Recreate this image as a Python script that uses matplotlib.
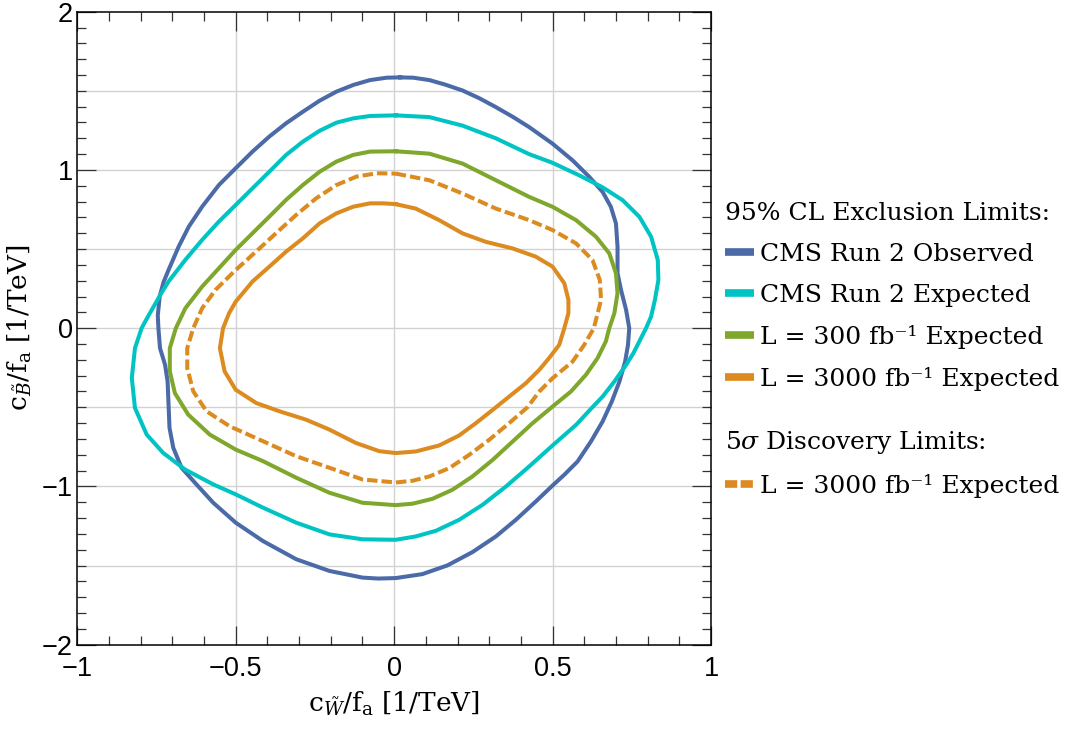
import numpy as np
import matplotlib
matplotlib.use('Agg')
import matplotlib.pyplot as plt
from matplotlib.lines import Line2D
from matplotlib.ticker import MultipleLocator, FixedLocator

# contour points, clockwise from the top
obs_x = [0.019, 0.06, 0.111, 0.16, 0.216, 0.27, 0.321, 0.375, 0.426, 0.5, 0.563, 0.616, 0.658, 0.684, 0.7,
         0.705, 0.705, 0.716, 0.732, 0.742,
         0.738, 0.729, 0.711, 0.687, 0.658, 0.621, 0.579, 0.537, 0.5, 0.447, 0.384, 0.321, 0.247, 0.168,
         0.089, 0.005,
         -0.05, -0.1, -0.204, -0.309, -0.414, -0.5, -0.571, -0.624, -0.671, -0.697, -0.709, -0.712, -0.715,
         -0.723, -0.739, -0.744,
         -0.746, -0.74, -0.728, -0.712, -0.68, -0.648, -0.606, -0.553, -0.5, -0.447, -0.394, -0.341, -0.288,
         -0.235, -0.182, -0.129, -0.076, -0.023, 0.019]
obs_y = [1.585, 1.583, 1.568, 1.54, 1.502, 1.452, 1.397, 1.335, 1.271, 1.166, 1.061, 0.956, 0.861, 0.767, 0.662,
         0.515, 0.347, 0.242, 0.116, 0.0,
         -0.105, -0.211, -0.337, -0.463, -0.589, -0.716, -0.842, -0.926, -0.994, -1.095, -1.211, -1.316, -1.415,
         -1.499, -1.554, -1.579,
         -1.582, -1.576, -1.534, -1.46, -1.345, -1.229, -1.103, -0.987, -0.882, -0.756, -0.63, -0.483, -0.336,
         -0.231, -0.126, 0.0,
         0.08, 0.2, 0.29, 0.368, 0.516, 0.642, 0.768, 0.905, 1.011, 1.116, 1.211, 1.295, 1.368,
         1.438, 1.495, 1.537, 1.568, 1.583, 1.585]

exp_x = [0.005, 0.111, 0.216, 0.321, 0.426, 0.5, 0.584, 0.658, 0.721, 0.774, 0.811, 0.832, 0.834, 0.823,
         0.811, 0.795,
         0.779, 0.755, 0.732, 0.695, 0.658, 0.626, 0.574, 0.5, 0.426, 0.353, 0.279, 0.205, 0.132, 0.068, 0.005,
         -0.1, -0.204, -0.309, -0.414, -0.5, -0.571, -0.66, -0.729, -0.781, -0.818, -0.828, -0.818, -0.797,
         -0.78, -0.756, -0.735, -0.712, -0.659, -0.606, -0.553, -0.5, -0.447, -0.394, -0.341, -0.288, -0.235,
         -0.182, -0.129, -0.076, 0.005]
exp_y = [1.345, 1.334, 1.28, 1.2, 1.1, 1.045, 0.966, 0.89, 0.809, 0.704, 0.578, 0.431, 0.305, 0.179,
         0.074, 0.0,
         -0.063, -0.158, -0.232, -0.337, -0.432, -0.499, -0.611, -0.741, -0.874, -1.0, -1.116, -1.211, -1.28,
         -1.316, -1.337,
         -1.334, -1.303, -1.229, -1.134, -1.05, -0.987, -0.893, -0.788, -0.672, -0.504, -0.315, -0.126, 0.0,
         0.063, 0.147, 0.221, 0.295, 0.432, 0.558, 0.674, 0.779, 0.884, 0.989, 1.095, 1.179, 1.248,
         1.299, 1.326, 1.341, 1.345]

l300_x = [0.005, 0.111, 0.216, 0.321, 0.426, 0.5, 0.574, 0.637, 0.679, 0.7, 0.705, 0.695, 0.679,
          0.668, 0.642, 0.605, 0.558, 0.5, 0.437, 0.374, 0.311, 0.247, 0.184, 0.121, 0.058, 0.005,
          -0.1, -0.204, -0.309, -0.414, -0.5, -0.582, -0.65, -0.692, -0.708, -0.708, -0.689,
          -0.659, -0.606, -0.553, -0.5, -0.447, -0.394, -0.341, -0.288, -0.235, -0.182, -0.129, -0.076, 0.005]
l300_y = [1.118, 1.103, 1.04, 0.935, 0.83, 0.767, 0.683, 0.578, 0.473, 0.347, 0.221, 0.095, 0.0,
          -0.084, -0.189, -0.295, -0.4, -0.495, -0.6, -0.716, -0.832, -0.937, -1.021, -1.078, -1.109, -1.118,
          -1.103, -1.04, -0.945, -0.84, -0.767, -0.672, -0.546, -0.41, -0.273, -0.126, 0.0,
          0.126, 0.263, 0.379, 0.495, 0.6, 0.705, 0.811, 0.905, 0.989, 1.053, 1.095, 1.116, 1.118]

disc_x = [0.005, 0.111, 0.216, 0.321, 0.426, 0.5, 0.574, 0.626, 0.649, 0.653, 0.637, 0.63,
          0.6, 0.563, 0.5, 0.458, 0.421, 0.363, 0.3, 0.237, 0.174, 0.111, 0.058, 0.005,
          -0.1, -0.204, -0.309, -0.414, -0.519, -0.592, -0.634, -0.653, -0.653, -0.634,
          -0.606, -0.564, -0.5, -0.436, -0.373, -0.309, -0.246, -0.182, -0.119, -0.055, 0.005]
disc_y = [0.977, 0.935, 0.851, 0.756, 0.683, 0.62, 0.536, 0.431, 0.305, 0.179, 0.053, 0.0,
          -0.105, -0.211, -0.316, -0.4, -0.499, -0.6, -0.705, -0.8, -0.884, -0.937, -0.964, -0.975,
          -0.956, -0.882, -0.809, -0.714, -0.62, -0.525, -0.399, -0.252, -0.126, 0.0,
          0.126, 0.242, 0.368, 0.484, 0.6, 0.716, 0.821, 0.905, 0.958, 0.979, 0.977]

l3000_x = [0.005, 0.068, 0.142, 0.216, 0.289, 0.374, 0.447, 0.5, 0.537, 0.55, 0.55, 0.537,
           0.521, 0.489, 0.458, 0.416, 0.363, 0.311, 0.258, 0.205, 0.142, 0.068, 0.005,
           -0.047, -0.121, -0.204, -0.278, -0.362, -0.435, -0.5, -0.535, -0.55, -0.54,
           -0.521, -0.5, -0.447, -0.394, -0.341, -0.288, -0.235, -0.182, -0.129, -0.076, -0.034, 0.005]
l3000_y = [0.784, 0.756, 0.683, 0.599, 0.546, 0.504, 0.452, 0.389, 0.284, 0.179, 0.095, 0.0,
           -0.105, -0.189, -0.263, -0.347, -0.432, -0.516, -0.6, -0.678, -0.741, -0.779, -0.789,
           -0.777, -0.725, -0.641, -0.578, -0.525, -0.473, -0.389, -0.273, -0.126, 0.0,
           0.095, 0.168, 0.295, 0.389, 0.484, 0.568, 0.663, 0.726, 0.768, 0.789, 0.789, 0.784]

labels = ['CMS Run 2 Observed', 'CMS Run 2 Expected',
          'L = 300 fb\u207b\u00b9 Expected', 'L = 3000 fb\u207b\u00b9 Expected']
disc_label = 'L = 3000 fb\u207b\u00b9 Expected'
xtick_vals = [-1, -0.5, 0, 0.5, 1]
xtick_labels = ['\u22121', '\u22120.5', '0', '0.5', '1']
ytick_vals = [-2, -1, 0, 1, 2]
ytick_labels = ['\u22122', '\u22121', '0', '1', '2']

c_obs = '#4b6aa8'
c_exp = '#00c4c4'
c_300 = '#7ea72c'
c_3000 = '#dc8b20'

plt.rcParams['font.family'] = 'DejaVu Serif'
plt.rcParams['mathtext.fontset'] = 'dejavuserif'

fig = plt.figure(figsize=(10.65, 7.3), dpi=100)
ax = fig.add_axes([77.3/1065, 85.3/730, 633.7/1065, 633/730])

# grid every 0.5
for v in [-0.5, 0, 0.5]:
    ax.axvline(v, color='#d2d2d2', lw=1.0, zorder=0)
for v in [-1.5, -1, -0.5, 0, 0.5, 1, 1.5]:
    ax.axhline(v, color='#d2d2d2', lw=1.0, zorder=0)

lw = 2.9
ax.plot(obs_x, obs_y, color=c_obs, lw=lw, solid_joinstyle='round')
ax.plot(exp_x, exp_y, color=c_exp, lw=lw, solid_joinstyle='round')
ax.plot(l300_x, l300_y, color=c_300, lw=lw, solid_joinstyle='round')
ax.plot(disc_x, disc_y, color=c_3000, lw=lw, dashes=(2.6, 1.0))
ax.plot(l3000_x, l3000_y, color=c_3000, lw=lw, solid_joinstyle='round')

ax.set_xlim(-1, 1)
ax.set_ylim(-2, 2)
ax.xaxis.set_major_locator(FixedLocator(xtick_vals))
ax.set_xticklabels(xtick_labels)
ax.yaxis.set_major_locator(FixedLocator(ytick_vals))
ax.set_yticklabels(ytick_labels)
ax.xaxis.set_minor_locator(MultipleLocator(0.1))
ax.yaxis.set_minor_locator(MultipleLocator(0.1))
ax.tick_params(which='both', direction='in', top=True, right=True, width=0.9, color='#333333')
ax.tick_params(which='major', length=13.5, labelsize=19.5, labelfontfamily='Liberation Sans')
ax.tick_params(which='minor', length=6.5)
ax.tick_params(axis='x', pad=8)
ax.tick_params(axis='y', pad=3)
for s in ax.spines.values():
    s.set_linewidth(1.1)

ax.set_xlabel(r'c$_{\tilde{W}}$/f$_\mathrm{a}$ [1/TeV]', fontsize=19, labelpad=6)
ax.set_ylabel(r'c$_{\tilde{B}}$/f$_\mathrm{a}$ [1/TeV]', fontsize=19, labelpad=6)

# legends at the right
handles = [Line2D([], [], color=c, lw=5.5, solid_capstyle='butt') for c in [c_obs, c_exp, c_300, c_3000]]
leg1 = ax.legend(handles, labels, title='95% CL Exclusion Limits:', loc='upper left',
                 bbox_to_anchor=(725/1065, 1 - 202/730), bbox_transform=fig.transFigure,
                 frameon=False, fontsize=18, title_fontsize=18, alignment='left',
                 handlelength=1.15, handletextpad=0.25, labelspacing=0.72, borderpad=0, borderaxespad=0)
ax.add_artist(leg1)
h_disc = Line2D([], [], color=c_3000, lw=5.5, dashes=(1.6, 0.45), solid_capstyle='butt')
leg2 = ax.legend([h_disc], [disc_label], title=r'5$\sigma$ Discovery Limits:', loc='upper left',
                 bbox_to_anchor=(725/1065, 1 - 429/730), bbox_transform=fig.transFigure,
                 frameon=False, fontsize=18, title_fontsize=18, alignment='left',
                 handlelength=1.15, handletextpad=0.25, labelspacing=0.72, borderpad=0, borderaxespad=0)

fig.savefig('out.png', dpi=100)
